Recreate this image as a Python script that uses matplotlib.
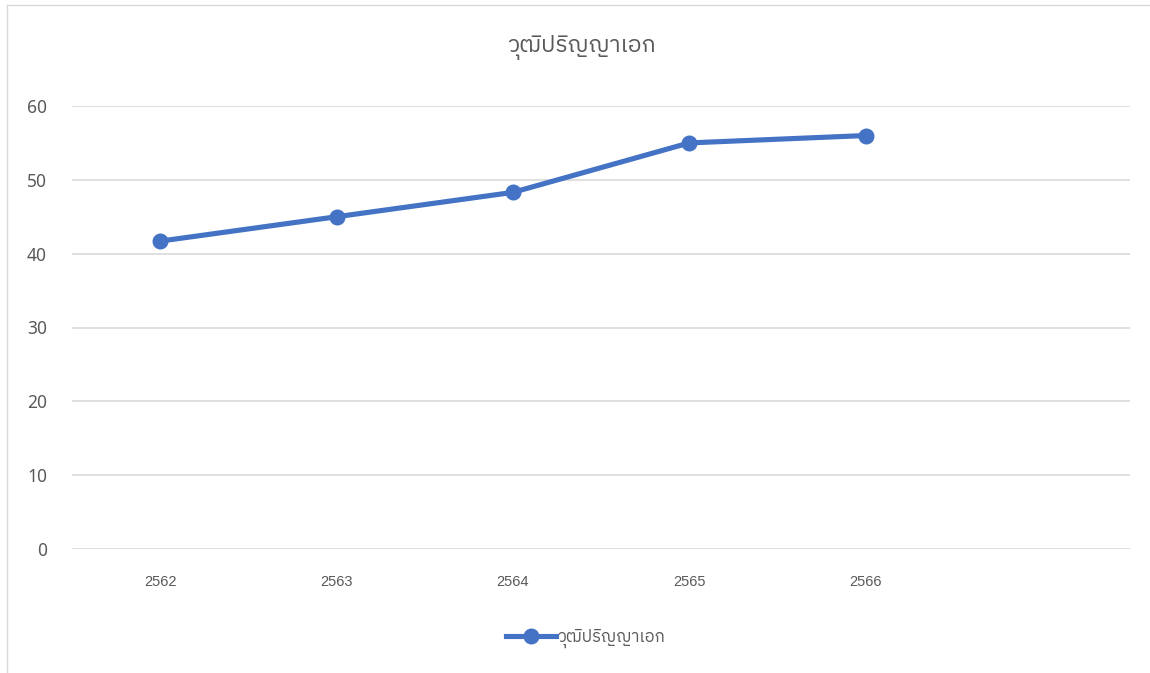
import matplotlib
matplotlib.use("Agg")
import matplotlib.pyplot as plt
from matplotlib import font_manager as fm
from matplotlib.ft2font import FT2Font
from matplotlib.lines import Line2D

# ─── data ────────────────────────────────────────────────────────────────────
years  = ["2562", "2563", "2564", "2565", "2566"]
values = [41.7, 45.0, 48.3, 55.0, 56.0]
series_name = "วุฒิปริญญาเอก"
yticks = [0, 10, 20, 30, 40, 50, 60]

# ─── find a font that has Thai glyphs ────────────────────────────────────────
thai_family = None
for f in fm.fontManager.ttflist:
    try:
        if 0x0E27 in FT2Font(f.fname).get_charmap():
            thai_family = f.name
            if "Sans" in f.name or "Looped" in f.name:
                break
    except Exception:
        continue
families = ([thai_family] if thai_family else []) + ["Noto Sans", "DejaVu Sans"]
plt.rcParams["font.family"] = families

GREY_TXT = "#595959"
BLUE     = "#4472C4"
GRID     = "#D9D9D9"

fig = plt.figure(figsize=(11.5, 6.73), dpi=100)
ax = fig.add_axes([72 / 1150, 1 - 549 / 673, (1130 - 72) / 1150, (549 - 106) / 673])

x = list(range(len(years)))
ax.plot(x, values, color=BLUE, linewidth=3.7, marker="o", markersize=10.5,
        solid_capstyle="round", zorder=3)

ax.set_xlim(-0.5, 5.5)
ax.set_ylim(0, 60)
ax.set_yticks(yticks)
ax.set_yticklabels([str(v) for v in yticks], fontsize=12.5, color=GREY_TXT,
                   family=["Noto Sans", "DejaVu Sans"])
ax.set_xticks(x)
ax.set_xticklabels(years, fontsize=10.5, color=GREY_TXT,
                   family=["Liberation Sans", "DejaVu Sans"])
ax.tick_params(axis="both", length=0)
ax.tick_params(axis="y", pad=18)
ax.tick_params(axis="x", pad=19)
ax.grid(axis="y", color=GRID, linewidth=1.2)
ax.set_axisbelow(True)
for s in ax.spines.values():
    s.set_visible(False)

fig.text(0.506, 1 - 48 / 673, series_name, ha="center", va="center",
         fontsize=16.5, color=GREY_TXT)

handle = Line2D([], [], color=BLUE, linewidth=3.7, marker="o", markersize=10.5)
fig.legend([handle], [series_name], loc="center", bbox_to_anchor=(0.509, 1 - 638 / 673),
           frameon=False, fontsize=12, labelcolor=GREY_TXT, handlelength=3.0,
           handletextpad=0.1)

# light frame (left and top edges) around the chart
fig.add_artist(Line2D([7 / 1150, 7 / 1150], [0, 1 - 5 / 673], transform=fig.transFigure,
                      color=GRID, linewidth=1.0))
fig.add_artist(Line2D([7 / 1150, 1], [1 - 5 / 673, 1 - 5 / 673], transform=fig.transFigure,
                      color=GRID, linewidth=1.0))

fig.savefig("out.png", dpi=100)
